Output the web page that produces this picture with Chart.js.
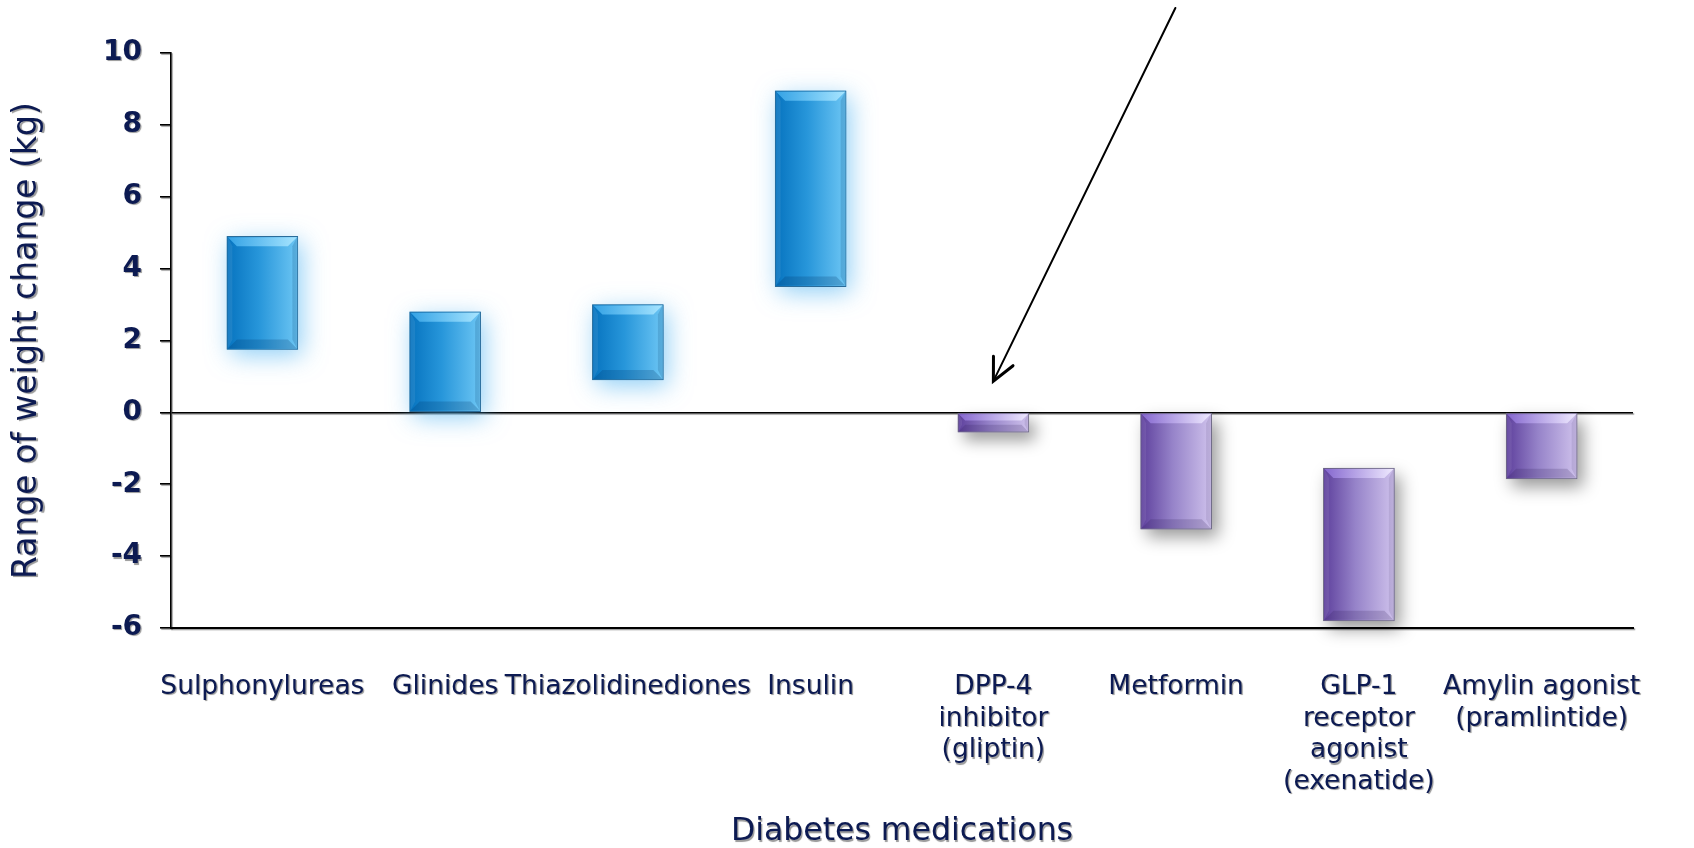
<!DOCTYPE html>
<html>
<head>
<meta charset="utf-8">
<script src="https://cdn.jsdelivr.net/npm/chart.js@4.4.1/dist/chart.umd.min.js"></script>
<style>
  html, body { margin: 0; padding: 0; background: #ffffff; }
  #wrap { width: 1694px; height: 848px; }
</style>
</head>
<body>
<div id="wrap"><canvas id="weightChart" width="1694" height="848"></canvas></div>
<script>
// Drug classes along the x axis (multi-line entries are wrapped labels)
const medications = [
  'Sulphonylureas',
  'Glinides',
  'Thiazolidinediones',
  'Insulin',
  ['DPP-4', 'inhibitor', '(gliptin)'],
  'Metformin',
  ['GLP-1', 'receptor', 'agonist', '(exenatide)'],
  ['Amylin agonist', '(pramlintide)']
];

// Range of weight change per class, in kg (lower and upper bound)
const changeLow  = [1.75, 0,   0.9, 3.5,  -0.55, -3.25, -5.8,  -1.85];
const changeHigh = [4.9,  2.8, 3.0, 8.95,  0,     0,    -1.55,  0];

// Y-axis tick values
const yTicks = [-6, -4, -2, 0, 2, 4, 6, 8, 10];

// Column that receives the callout arrow (DPP-4 inhibitor)
const calloutIndex = 4;

const BAR_W = 71;
const NAVY = '#0c1a52';

Chart.defaults.font.family = "'DejaVu Sans', Verdana, sans-serif";
Chart.defaults.color = NAVY;

const ranges = changeLow.map((lo, i) => [lo, changeHigh[i]]);
const isGain = i => changeLow[i] + changeHigh[i] > 0;

function barFill(c) {
  const chart = c.chart;
  const xs = chart.scales && chart.scales.x;
  const i = c.dataIndex;
  const flat = (i !== undefined && !isGain(i)) ? '#9683c9' : '#2796da';
  if (!xs || i === undefined) return flat;
  const cx = xs.getPixelForValue(i);
  if (!isFinite(cx)) return flat;
  const g = chart.ctx.createLinearGradient(cx - BAR_W / 2, 0, cx + BAR_W / 2, 0);
  if (isGain(i)) {
    g.addColorStop(0, '#0673bf');
    g.addColorStop(0.45, '#2796da');
    g.addColorStop(1, '#6dc6f4');
  } else {
    g.addColorStop(0, '#5d3f9c');
    g.addColorStop(0.45, '#9683c9');
    g.addColorStop(1, '#cfc2ec');
  }
  return g;
}

function barRect(bar) {
  const p = bar.getProps(['x', 'y', 'base', 'width'], true);
  const top = Math.min(p.y, p.base);
  const bottom = Math.max(p.y, p.base);
  return { x0: p.x - p.width / 2, x1: p.x + p.width / 2, top, bottom, cx: p.x };
}

const rectOk = r => [r.x0, r.x1, r.top, r.bottom].every(isFinite);

function setShade(ctx) {
  ctx.shadowColor = 'rgba(0,0,0,0.4)';
  ctx.shadowBlur = 0.8;
  ctx.shadowOffsetX = 1.2;
  ctx.shadowOffsetY = 1.2;
}

// Faint offset shadow under axis lines and text
const axisShade = {
  id: 'axisShade',
  beforeDraw(chart) {
    chart.ctx.save();
    setShade(chart.ctx);
  },
  beforeDatasetsDraw(chart) {
    chart.ctx.restore();
  },
  afterDatasetsDraw(chart) {
    chart.ctx.save();
    setShade(chart.ctx);
  },
  afterDraw(chart) {
    chart.ctx.restore();
  }
};

// Soft glow / drop shadow behind every bar
const barShadow = {
  id: 'barShadow',
  beforeDatasetsDraw(chart) {
    const ctx = chart.ctx;
    chart.getDatasetMeta(0).data.forEach((bar, i) => {
      const r = barRect(bar);
      if (!rectOk(r)) return;
      ctx.save();
      if (isGain(i)) {
        ctx.shadowColor = 'rgba(70,175,240,0.6)';
        ctx.shadowBlur = 24;
        ctx.shadowOffsetX = 4;
        ctx.shadowOffsetY = 6;
        ctx.fillStyle = '#3aa0dc';
      } else {
        ctx.shadowColor = 'rgba(0,0,0,0.4)';
        ctx.shadowBlur = 16;
        ctx.shadowOffsetX = 6;
        ctx.shadowOffsetY = 8;
        ctx.fillStyle = '#8e7cc4';
      }
      ctx.fillRect(r.x0, r.top, r.x1 - r.x0, r.bottom - r.top);
      ctx.restore();
    });
  }
};

// Bevelled edges on top of the bar fill
const barBevel = {
  id: 'barBevel',
  afterDatasetsDraw(chart) {
    const ctx = chart.ctx;
    chart.getDatasetMeta(0).data.forEach((bar, i) => {
      const r = barRect(bar);
      if (!rectOk(r)) return;
      const h = r.bottom - r.top;
      const b = Math.min(9, h / 3);
      const gain = isGain(i);
      const x0 = r.x0 + 1, x1 = r.x1 - 1, t = r.top + 1, btm = r.bottom - 1;
      ctx.save();
      ctx.shadowColor = 'rgba(0,0,0,0)';
      // top facet
      const tg = ctx.createLinearGradient(x0, 0, x1, 0);
      if (gain) {
        tg.addColorStop(0, 'rgba(60,170,235,0.85)');
        tg.addColorStop(1, 'rgba(170,230,255,0.95)');
      } else {
        tg.addColorStop(0, 'rgba(140,110,215,0.85)');
        tg.addColorStop(1, 'rgba(240,235,255,0.95)');
      }
      ctx.fillStyle = tg;
      ctx.beginPath();
      ctx.moveTo(x0, t); ctx.lineTo(x1, t);
      ctx.lineTo(x1 - b, t + b); ctx.lineTo(x0 + b, t + b);
      ctx.closePath(); ctx.fill();
      // bottom facet
      ctx.fillStyle = gain ? 'rgba(0,50,100,0.22)' : 'rgba(40,20,80,0.18)';
      ctx.beginPath();
      ctx.moveTo(x0, btm); ctx.lineTo(x1, btm);
      ctx.lineTo(x1 - b, btm - b); ctx.lineTo(x0 + b, btm - b);
      ctx.closePath(); ctx.fill();
      // right facet
      ctx.fillStyle = gain ? 'rgba(0,60,110,0.18)' : 'rgba(60,40,100,0.12)';
      ctx.beginPath();
      ctx.moveTo(x1, t); ctx.lineTo(x1, btm);
      ctx.lineTo(x1 - b * 0.5, btm - b); ctx.lineTo(x1 - b * 0.5, t + b);
      ctx.closePath(); ctx.fill();
      // left facet
      ctx.fillStyle = 'rgba(255,255,255,0.08)';
      ctx.beginPath();
      ctx.moveTo(x0, t); ctx.lineTo(x0, btm);
      ctx.lineTo(x0 + b * 0.5, btm - b); ctx.lineTo(x0 + b * 0.5, t + b);
      ctx.closePath(); ctx.fill();
      ctx.restore();
    });
  }
};

// Callout arrow pointing down at the DPP-4 column
const calloutArrow = {
  id: 'calloutArrow',
  afterDraw(chart) {
    const bar = chart.getDatasetMeta(0).data[calloutIndex];
    if (!bar) return;
    const r = barRect(bar);
    if (!rectOk(r)) return;
    const ctx = chart.ctx;
    const tipX = r.cx, tipY = r.top - 32;
    const tailX = tipX + 182, tailY = 8;
    const ang = Math.atan2(tailY - tipY, tailX - tipX);
    const arm = 25, spread = 0.45;
    ctx.save();
    ctx.strokeStyle = '#000';
    ctx.lineWidth = 2;
    ctx.lineCap = 'round';
    ctx.beginPath();
    ctx.moveTo(tailX, tailY);
    ctx.lineTo(tipX, tipY);
    ctx.stroke();
    ctx.lineWidth = 3;
    ctx.beginPath();
    ctx.moveTo(tipX + arm * Math.cos(ang - spread), tipY + arm * Math.sin(ang - spread));
    ctx.lineTo(tipX, tipY);
    ctx.lineTo(tipX + arm * Math.cos(ang + spread), tipY + arm * Math.sin(ang + spread));
    ctx.stroke();
    ctx.restore();
  }
};

new Chart(document.getElementById('weightChart'), {
  type: 'bar',
  data: {
    labels: medications,
    datasets: [{
      data: ranges,
      backgroundColor: barFill,
      borderColor: c => (c.dataIndex !== undefined && !isGain(c.dataIndex)) ? '#6e6a84' : '#2a6c9a',
      borderWidth: 1,
      borderSkipped: false,
      barThickness: BAR_W
    }]
  },
  options: {
    responsive: false,
    devicePixelRatio: 1,
    animation: false,
    layout: { padding: { left: 8, right: 61, top: 53, bottom: 0 } },
    plugins: {
      legend: { display: false },
      tooltip: { enabled: false }
    },
    scales: {
      x: {
        afterFit: s => { s.height = 220; },
        grid: { display: false },
        border: { display: true, color: '#000', width: 2 },
        ticks: {
          autoSkip: false,
          maxRotation: 0,
          minRotation: 0,
          padding: 35,
          color: NAVY,
          font: { size: 26.5, lineHeight: 1.2 }
        },
        title: {
          display: true,
          text: 'Diabetes medications',
          color: NAVY,
          font: { size: 31.5, lineHeight: 1.0 },
          padding: { top: 0, bottom: 0 }
        }
      },
      y: {
        z: 1,
        min: -6,
        max: 10,
        afterFit: s => { s.width = 163; },
        afterBuildTicks: s => { s.ticks = yTicks.map(v => ({ value: v })); },
        grid: {
          color: c => (c.tick && c.tick.value === 0) ? '#000' : 'rgba(0,0,0,0)',
          tickColor: '#000',
          tickLength: 11,
          lineWidth: 1.6
        },
        border: { display: true, color: '#000', width: 1.6 },
        ticks: {
          padding: 18,
          color: NAVY,
          font: { size: 28, weight: 'bold' }
        },
        title: {
          display: true,
          text: 'Range of weight change (kg)',
          color: NAVY,
          font: { size: 33, lineHeight: 1.2 },
          padding: { top: 0, bottom: 0 }
        }
      }
    }
  },
  plugins: [axisShade, barShadow, barBevel, calloutArrow]
});
</script>
</body>
</html>
